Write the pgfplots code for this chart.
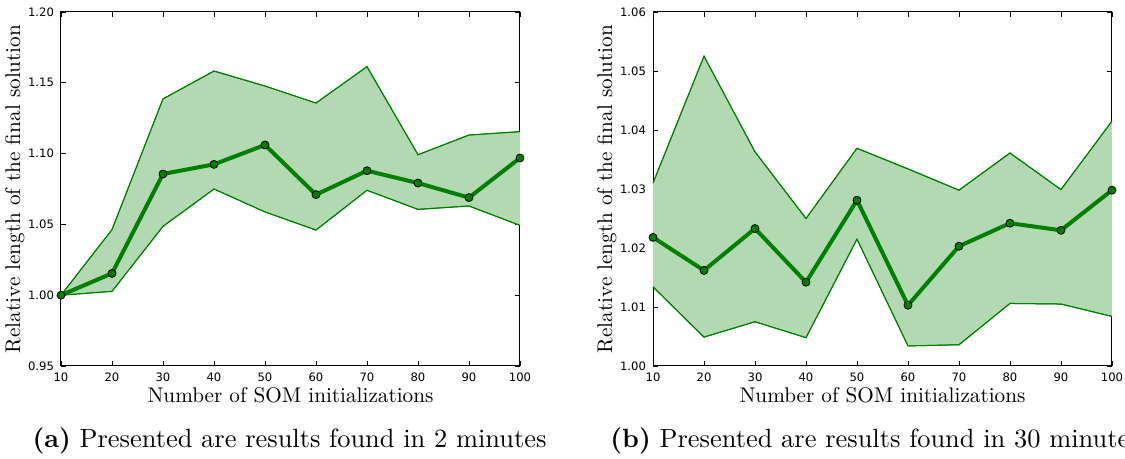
\documentclass[border=0pt]{standalone}
\usepackage{fontspec}
\usepackage{pgfplots}
\pgfplotsset{compat=1.18}
\usepgfplotslibrary{fillbetween}
\newfontfamily\dejavu{DejaVu Sans}
\newfontfamily\capfont[BoldFont=lmroman10-bold.otf]{lmroman10-regular.otf}
\definecolor{mgreen}{RGB}{0,128,0}
\definecolor{mfill}{RGB}{178,217,178}

\pgfplotstableread{
x mean upper lower
10 1.0000 1.0000 1.0000
20 1.0154 1.0463 1.0027
30 1.0856 1.1386 1.0486
40 1.0924 1.1583 1.0750
50 1.1061 1.1477 1.0588
60 1.0710 1.1357 1.0460
70 1.0879 1.1614 1.0741
80 1.0792 1.0992 1.0606
90 1.0689 1.1131 1.0630
100 1.0969 1.1155 1.0493
}\dataA

\pgfplotstableread{
x mean upper lower
10 1.0218 1.0310 1.0134
20 1.0162 1.0525 1.0049
30 1.0233 1.0363 1.0075
40 1.0142 1.0250 1.0048
50 1.0281 1.0369 1.0215
60 1.0103 1.0334 1.0034
70 1.0203 1.0298 1.0036
80 1.0242 1.0361 1.0106
90 1.0230 1.0299 1.0105
100 1.0298 1.0415 1.0084
}\dataB

\pgfplotsset{
  mystyle/.style={
    width=229.5pt, height=177pt, scale only axis,
    xmin=10, xmax=100, xtick={10,20,30,40,50,60,70,80,90,100},
    tick align=inside, tick pos=both, major tick length=2.5pt,
    tick style={black, line width=0.4pt},
    axis line style={line width=0.5pt},
    tick label style={font=\dejavu\fontsize{5.8}{6}\selectfont},
    /pgf/number format/assume math mode=true,
    yticklabel style={/pgf/number format/.cd, fixed, fixed zerofill, precision=2},
    xlabel={Number of SOM initializations},
    ylabel={Relative length of the final solution},
    label style={font=\fontsize{10.6}{12}\selectfont},
    xlabel style={yshift=4pt},
    ylabel style={yshift=-5pt},
    clip=false,
  },
  meanline/.style={mgreen, line width=2pt, mark=*, mark size=2pt,
    mark options={fill=mgreen, draw=black, line width=0.4pt}},
  bound/.style={mgreen, line width=0.5pt},
}

\begin{document}
\begin{tikzpicture}
\begin{axis}[mystyle, at={(0pt,0pt)}, anchor=south west,
  ymin=0.95, ymax=1.20, ytick={0.95,1.00,1.05,1.10,1.15,1.20}]
  \addplot[name path=upA, bound] table[x=x, y=upper] {\dataA};
  \addplot[name path=loA, bound] table[x=x, y=lower] {\dataA};
  \addplot[mfill, draw=none] fill between[of=upA and loA];
  \addplot[bound] table[x=x, y=upper] {\dataA};
  \addplot[bound] table[x=x, y=lower] {\dataA};
  \addplot[meanline] table[x=x, y=mean] {\dataA};
\end{axis}
\begin{axis}[mystyle, at={(296pt,0pt)}, anchor=south west,
  ymin=1.00, ymax=1.06, ytick={1.00,1.01,1.02,1.03,1.04,1.05,1.06}]
  \addplot[name path=upB, bound] table[x=x, y=upper] {\dataB};
  \addplot[name path=loB, bound] table[x=x, y=lower] {\dataB};
  \addplot[mfill, draw=none] fill between[of=upB and loB];
  \addplot[bound] table[x=x, y=upper] {\dataB};
  \addplot[bound] table[x=x, y=lower] {\dataB};
  \addplot[meanline] table[x=x, y=mean] {\dataB};
\end{axis}
\node[anchor=base] at (114.25pt,-41pt) {\capfont\fontsize{13.2}{15}\selectfont\textbf{(a)} Presented are results found in 2 minutes};
\node[anchor=base west, inner sep=0pt] at (274.5pt,-41pt) {\capfont\fontsize{13.2}{15}\selectfont\textbf{(b)} Presented are results found in 30 minutes};
\pgfresetboundingbox
\path[use as bounding box] (-30.5pt,-46.5pt) rectangle (532pt,183pt);
\end{tikzpicture}
\end{document}
